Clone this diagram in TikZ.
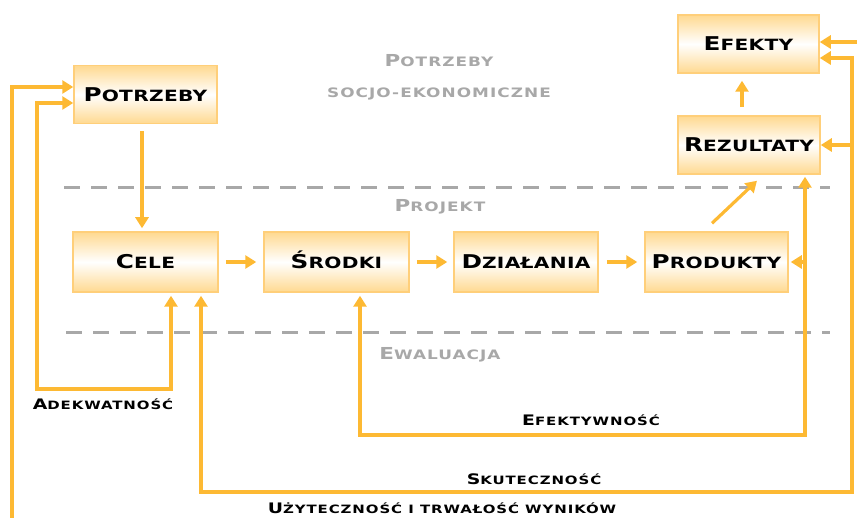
\documentclass[tikz,border=0pt]{standalone}
\usepackage{fontspec}
\setmainfont[LetterSpace=8,FakeStretch=1.3]{DejaVu Sans}
\usetikzlibrary{arrows.meta,calc}
\definecolor{arrc}{HTML}{FDB933}
\definecolor{brd}{HTML}{FFCF7A}
\definecolor{topc}{HTML}{FFD990}
\definecolor{gr}{HTML}{A8A8A8}
\newcommand\bxt[2]{{\fontsize{19}{19}\selectfont #1}{\fontsize{15.5}{15.5}\selectfont #2}}
\newcommand\lbt[2]{{\fontsize{14.5}{14.5}\selectfont #1}{\fontsize{11.5}{11.5}\selectfont #2}}
\newcommand\gbt[2]{{\fontsize{16.5}{16.5}\selectfont #1}{\fontsize{13}{13}\selectfont #2}}
\begin{document}
\begin{tikzpicture}[x=1pt,y=-1pt,
 box/.style={draw=brd, line width=1.5pt, top color=topc, bottom color=topc, middle color=white,
   minimum width=143pt, minimum height=58pt, inner sep=0pt, text height=14pt, text depth=0pt,
   font=\bfseries\addfontfeature{LetterSpace=2}},
 arr/.style={draw=arrc, line width=3.2pt, -{Triangle[length=11pt,width=13pt]}},
 arrb/.style={draw=arrc, line width=3.2pt, {Triangle[length=11pt,width=13pt]}-{Triangle[length=11pt,width=13pt]}},
 sep/.style={draw=gr, line width=3pt, dash pattern=on 16pt off 11pt},
 glab/.style={text=gr, inner sep=0pt, anchor=base, font=\bfseries},
 lab/.style={text=black, inner sep=0pt, anchor=base, font=\bfseries}]
\useasboundingbox (0,0) rectangle (857,518);

% separators
\coordinate (s1a) at (64,188); \coordinate (s1b) at (830,188);
\coordinate (s2a) at (66,333); \coordinate (s2b) at (830,333);
\draw[sep] (s1a) -- (s1b);
\draw[sep] (s2a) -- (s2b);

% boxes
\node[box] (pot) at (145.5,94.5) {\bxt{P}{OTRZEBY}};
\node[box, minimum width=145pt, minimum height=60pt] (cele) at (145.5,262) {\bxt{C}{ELE}};
\node[box, minimum width=145pt, minimum height=60pt] (srod) at (336.5,262) {\bxt{Ś}{RODKI}};
\node[box, minimum width=144pt, minimum height=60pt] (dzia) at (526,262) {\bxt{D}{ZIAŁANIA}};
\node[box, minimum width=143pt, minimum height=60pt] (prod) at (716.5,262) {\bxt{P}{RODUKTY}};
\node[box, minimum width=141pt] (efe) at (748.5,44) {\bxt{E}{FEKTY}};
\node[box, minimum width=142pt] (rez) at (749,145) {\bxt{R}{EZULTATY}};

% gray labels
\node[glab] (g1) at (439,67) {\gbt{P}{OTRZEBY}};
\node[glab] (g2) at (439,98) {\gbt{}{SOCJO-EKONOMICZNE}};
\node[glab] (g3) at (440,212) {\gbt{P}{ROJEKT}};
\node[glab] (g4) at (440,360) {\gbt{E}{WALUACJA}};

% main flow
\draw[arr] ([xshift=-3.5pt,yshift=-7pt]pot.south) -- ([xshift=-3.5pt,yshift=3pt]cele.north);
\draw[arr] ([xshift=7pt]cele.east) -- ([xshift=-7pt]srod.west);
\draw[arr] ([xshift=7pt]srod.east) -- ([xshift=-6pt]dzia.west);
\draw[arr] ([xshift=8pt]dzia.east) -- ([xshift=-7pt]prod.west);
\draw[arr] ([xshift=-4.5pt,yshift=8pt]prod.north) -- ([xshift=8pt,yshift=-6pt]rez.south);
\draw[arr] ([xshift=-7pt,yshift=8pt]rez.north) -- ([xshift=-6.5pt,yshift=-7pt]efe.south);

% Adekwatnosc
\coordinate (ad) at (37,389);
\draw[arrb] ([xshift=25.5pt,yshift=-3pt]cele.south) |- (ad) |- ([yshift=-8.5pt]pot.west);
\node[lab] (lad) at (103,410) {\lbt{A}{DEKWATNOŚĆ}};

% Efektywnosc
\coordinate (ef) at (805,435);
\draw[arrb] ([xshift=23.5pt,yshift=-3pt]srod.south) |- (ef) -- ([xshift=56pt,yshift=-2pt]rez.south);
\draw[arr] (prod.east -| ef) -- ([xshift=2pt]prod.east);
\node[lab] (lef) at (591,426) {\lbt{E}{FEKTYWNOŚĆ}};

% Skutecznosc
\coordinate (sk) at (852,492);
\draw[arrb] ([xshift=55.5pt,yshift=-3pt]cele.south) |- (sk) |- ([yshift=-14pt]efe.east);
\draw[arr] (rez.east -| sk) -- (rez.east);
\node[lab] (lsk) at (534,485) {\lbt{S}{KUTECZNOŚĆ}};

% Uzytecznosc
\coordinate (u1) at (12,518);
\coordinate (u2) at (857,42);
\draw[arr] (u1) |- ([yshift=7.5pt]pot.west);
\draw[arr] (u2) -- (u2 -| efe.east);
\node[lab] (luz) at (442,513) {\lbt{U}{ŻYTECZNOŚĆ I TRWAŁOŚĆ WYNIKÓW}};
\end{tikzpicture}
\end{document}
